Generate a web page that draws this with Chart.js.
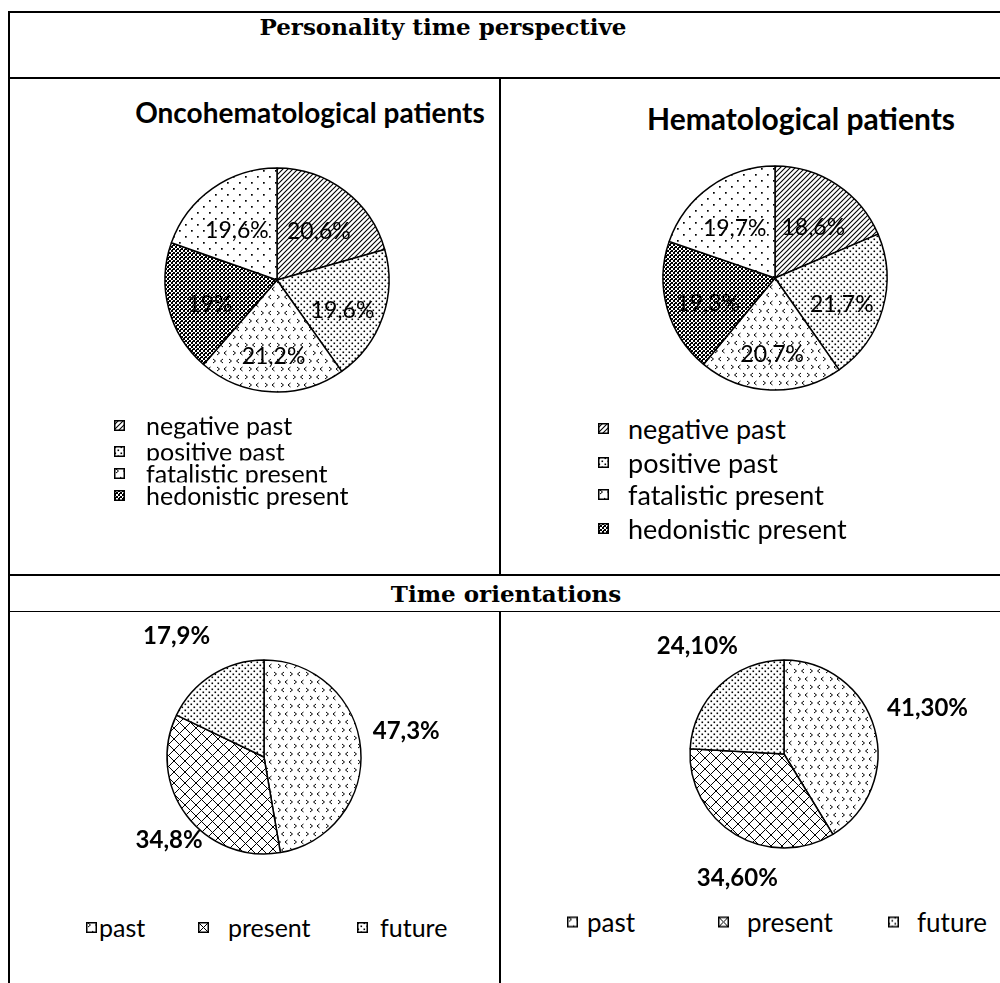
<!DOCTYPE html>
<html>
<head>
<meta charset="utf-8">
<script src="https://cdn.jsdelivr.net/npm/chart.js@4.4.0/dist/chart.umd.min.js"></script>
<style>
body{margin:0;background:#fff;width:1000px;height:983px;overflow:hidden;position:relative;font-family:Lato,sans-serif;color:#000}
.ln{position:absolute;background:#000}
.txt{position:absolute;white-space:nowrap;transform:translate(-50%,-50%);line-height:1}
.serif{font-family:"DejaVu Serif",serif;font-weight:bold;font-size:23px}
.head{font-weight:bold}
canvas.pie{position:absolute}
.item{position:absolute;white-space:nowrap;line-height:1;transform:translateY(-50%)}
.item canvas{position:absolute;left:0;top:50%;transform:translateY(-50%)}
.item.tight{background:#fff}
</style>
</head>
<body>
<div class="ln" style="left:8px;top:11px;width:992px;height:2px"></div>
<div class="ln" style="left:8px;top:11px;width:2px;height:972px"></div>
<div class="ln" style="left:8px;top:77px;width:992px;height:2px"></div>
<div class="ln" style="left:499px;top:77px;width:2px;height:499px"></div>
<div class="ln" style="left:8px;top:574px;width:992px;height:2px"></div>
<div class="ln" style="left:8px;top:611px;width:992px;height:1px"></div>
<div class="ln" style="left:499px;top:611px;width:2px;height:372px"></div>

<div class="txt serif" style="left:443px;top:26px">Personality time perspective</div>
<div class="txt serif" style="left:506px;top:593px">Time orientations</div>
<div class="txt head" style="left:310px;top:112px;font-size:28px">Oncohematological patients</div>
<div class="txt head" style="left:801px;top:118px;font-size:30px">Hematological patients</div>

<canvas class="pie" id="oncoPersp"></canvas>
<canvas class="pie" id="hemaPersp"></canvas>
<canvas class="pie" id="oncoOrient"></canvas>
<canvas class="pie" id="hemaOrient"></canvas>

<script>
'use strict';
// five time perspective scales (legend in the source only lists the first four)
let perspCategories=['negative past','positive past','fatalistic present','hedonistic present','future'];
let oncoPerspective=[20.6,19.6,21.2,19,19.6];
let hemaPerspective=[18.6,21.7,20.7,19.3,19.7];

let orientCategories=['past','present','future'];
let oncoOrientation=[47.3,34.8,17.9];
let hemaOrientation=[41.3,34.6,24.1];

// black and white fills
function tile(w,h,draw){
  let c=document.createElement('canvas');
  c.width=w; c.height=h;
  let g=c.getContext('2d');
  g.fillStyle='#fff'; g.fillRect(0,0,w,h);
  g.fillStyle='#000'; g.strokeStyle='#000'; g.lineWidth=1;
  draw(g);
  return g.createPattern(c,'repeat');
}
function chevron(g,x,y,dir){
  g.beginPath();
  g.moveTo(x,y); g.lineTo(x+2.5*dir,y+2); g.lineTo(x,y+4);
  g.stroke();
}
let diagFill=tile(5,5,function(g){
  g.lineWidth=1.1;
  g.beginPath();
  g.moveTo(-5,5); g.lineTo(5,-5);
  g.moveTo(0,5); g.lineTo(5,0);
  g.moveTo(0,10); g.lineTo(10,0);
  g.stroke();
});
let denseDots=tile(6,6,function(g){
  g.fillRect(0.5,0.5,1.6,1.6); g.fillRect(3.5,3.5,1.6,1.6);
});
let sparseDots=tile(12,12,function(g){
  g.fillRect(2,2,1.7,1.7); g.fillRect(8,8,1.7,1.7);
});
let arrowFill=tile(16,16,function(g){
  chevron(g,2,1,1); chevron(g,12,1,-1); chevron(g,6,9,1); chevron(g,15.5,9,-1);
});
let checkFill=tile(4,4,function(g){
  g.fillRect(0,0,2,2); g.fillRect(2,2,2,2); g.fillRect(1,3,1,1);
});
let gridFill=tile(11,11,function(g){
  g.lineWidth=1;
  g.beginPath();
  g.moveTo(-1,-1); g.lineTo(12,12);
  g.moveTo(-1,12); g.lineTo(12,-1);
  g.stroke();
});

let perspFills=[diagFill,denseDots,arrowFill,checkFill,sparseDots];
let orientFills=[arrowFill,gridFill,denseDots];

function fmt(v,decimals){
  let s=decimals==null ? String(v) : v.toFixed(decimals);
  return s.replace('.',',')+'%';
}

let pctLabels={
  id:'pctLabels',
  afterDatasetsDraw(chart,args,opts){
    let ctx=chart.ctx;
    let meta=chart.getDatasetMeta(0);
    let vals=chart.data.datasets[0].data;
    ctx.save();
    ctx.font=opts.font;
    ctx.fillStyle='#000';
    ctx.textAlign='center';
    ctx.textBaseline='middle';
    meta.data.forEach(function(arc,i){
      let p=arc.getProps(['x','y','startAngle','endAngle','outerRadius'],true);
      let mid=(p.startAngle+p.endAngle)/2;
      let r=p.outerRadius*opts.dist;
      let nudge=opts.nudge ? opts.nudge[i] : [0,0];
      ctx.fillText(fmt(vals[i],opts.decimals),
        p.x+Math.cos(mid)*r+nudge[0],
        p.y+Math.sin(mid)*r+(opts.dy||0)+nudge[1]);
    });
    ctx.restore();
  }
};

function makePie(id,cx,cy,r,w,h,labels,values,fills,labelOpts){
  let bw=1.5;
  let canvas=document.getElementById(id);
  canvas.width=w; canvas.height=h;
  canvas.style.left=(cx-w/2)+'px';
  canvas.style.top=(cy-h/2)+'px';
  let padX=(w-2*r-bw)/2, padY=(h-2*r-bw)/2;
  return new Chart(canvas.getContext('2d'),{
    type:'pie',
    data:{
      labels:labels,
      datasets:[{
        data:values,
        backgroundColor:fills,
        borderColor:'#000',
        borderWidth:bw
      }]
    },
    options:{
      responsive:false,
      animation:false,
      events:[],
      layout:{padding:{left:padX,right:padX,top:padY,bottom:padY}},
      plugins:{
        legend:{display:false},
        tooltip:{enabled:false},
        pctLabels:labelOpts
      }
    },
    plugins:[pctLabels]
  });
}

makePie('oncoPersp',277,280,112,260,260,perspCategories,oncoPerspective,perspFills,
  {font:'23px Lato',dist:0.62,dy:7,decimals:null});
makePie('hemaPersp',775,278,112,260,260,perspCategories,hemaPerspective,perspFills,
  {font:'23px Lato',dist:0.62,dy:7,decimals:null});
makePie('oncoOrient',264,757,97,400,300,orientCategories,oncoOrientation,orientFills,
  {font:'bold 24px Lato',dist:1.42,decimals:1,nudge:[[5,-14],[15,0],[-14,-4]]});
makePie('hemaOrient',784,754,94,400,300,orientCategories,hemaOrientation,orientFills,
  {font:'bold 24px Lato',dist:1.42,decimals:2,nudge:[[15,-10],[22,10],[5,-11]]});

// html legends
function legendItem(label,fill,x,y,gap,size,tight){
  let item=document.createElement('div');
  item.className=tight ? 'item tight' : 'item';
  item.style.left=x+'px';
  item.style.top=y+'px';
  item.style.fontSize=size+'px';
  item.style.paddingLeft=gap+'px';
  let sw=document.createElement('canvas');
  sw.width=11; sw.height=11;
  let g=sw.getContext('2d');
  g.fillStyle=fill; g.fillRect(0,0,11,11);
  g.strokeStyle='#000'; g.lineWidth=1.5; g.strokeRect(0.75,0.75,9.5,9.5);
  item.appendChild(sw);
  item.appendChild(document.createTextNode(label));
  document.body.appendChild(item);
}

let shownPersp=perspCategories.slice(0,4);
let leftRows=[425,451,473,495];
let rightRows=[428,462,494,528];
shownPersp.forEach(function(label,i){
  // left legend rows overlap slightly, like the source
  legendItem(label,perspFills[i],114,leftRows[i],32,25,true);
  legendItem(label,perspFills[i],598,rightRows[i],30,27,false);
});

let leftCols=[86,198,357];
let rightCols=[567,718,888];
orientCategories.forEach(function(label,i){
  legendItem(label,orientFills[i],leftCols[i],927,[13,30,23][i],25,false);
  legendItem(label,orientFills[i],rightCols[i],922,[20,29,29][i],26,false);
});
</script>
</body>
</html>
